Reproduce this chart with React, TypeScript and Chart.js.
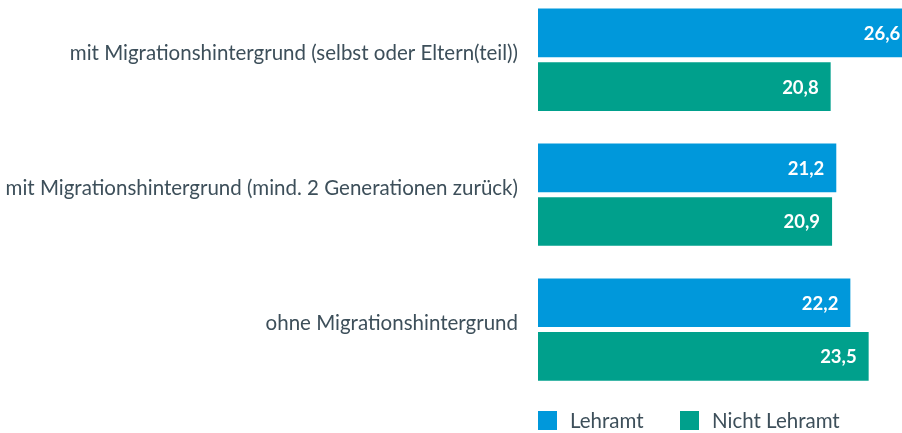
import React, { useEffect, useRef } from "react";
import { Chart, registerables } from "chart.js";

Chart.register(...registerables);

const categories = [
  "mit Migrationshintergrund (selbst oder Eltern(teil))",
  "mit Migrationshintergrund (mind. 2 Generationen zurück)",
  "ohne Migrationshintergrund",
];
const seriesNames = ["Lehramt", "Nicht Lehramt"];
const lehramt = [26.6, 21.2, 22.2];
const nichtLehramt = [20.8, 20.9, 23.5];
const colors = ["#0098db", "#00a08c"];

const TEXT = "#3d4f5a";
const FONT = "Lato, 'Open Sans', sans-serif";
const CANVAS_TOP = -20;

const fmt = (v: number) => v.toFixed(1).replace(".", ",");

const valueLabels = {
  id: "valueLabels",
  afterDatasetsDraw(chart: any) {
    const ctx = chart.ctx;
    ctx.save();
    ctx.font = `bold 18.5px ${FONT}`;
    ctx.fillStyle = "#ffffff";
    ctx.textAlign = "right";
    ctx.textBaseline = "middle";
    chart.data.datasets.forEach((ds: any, di: number) => {
      const meta = chart.getDatasetMeta(di);
      meta.data.forEach((el: any, i: number) => {
        ctx.fillText(fmt(ds.data[i]), el.x - 12, el.y + 1);
      });
    });
    ctx.restore();
  },
};

const customLegend = {
  id: "customLegend",
  afterDraw(chart: any) {
    const ctx = chart.ctx;
    const left = chart.chartArea.left;
    const y = 411 - CANVAS_TOP;
    ctx.save();
    ctx.font = `20.5px ${FONT}`;
    ctx.textBaseline = "middle";
    ctx.textAlign = "left";
    let x = left;
    chart.data.datasets.forEach((ds: any, i: number) => {
      ctx.fillStyle = ds.backgroundColor;
      ctx.fillRect(x, y, 19, 19);
      ctx.fillStyle = TEXT;
      ctx.fillText(ds.label, x + 32, y + 10);
      x += 142;
    });
    ctx.restore();
  },
};

export default function App() {
  const ref = useRef<HTMLCanvasElement>(null);
  useEffect(() => {
    document.body.style.margin = "0";
    const chart = new Chart(ref.current!, {
      type: "bar",
      data: {
        labels: categories,
        datasets: [
          {
            label: seriesNames[0],
            data: lehramt,
            backgroundColor: colors[0],
            categoryPercentage: 0.7956,
            barPercentage: 0.907,
            clip: false,
          } as any,
          {
            label: seriesNames[1],
            data: nichtLehramt,
            backgroundColor: colors[1],
            categoryPercentage: 0.7956,
            barPercentage: 0.907,
            clip: false,
          } as any,
        ],
      },
      options: {
        indexAxis: "y",
        animation: false,
        responsive: false,
        maintainAspectRatio: false,
        layout: { autoPadding: false, padding: { top: 0, right: 0, left: 0, bottom: 36 } },
        plugins: {
          legend: { display: false },
          tooltip: { enabled: false },
        },
        scales: {
          x: {
            display: false,
            min: 0,
            max: 25.87,
          },
          y: {
            grid: { display: false, drawTicks: true, tickLength: 20 },
            border: { display: false },
            ticks: {
              color: TEXT,
              font: { family: FONT, size: 20.5 },
              padding: 0,
              labelOffset: -6,
            },
            afterFit(scale: any) {
              scale.width = 538;
            },
          },
        },
      } as any,
      plugins: [valueLabels, customLegend],
    });
    return () => chart.destroy();
  }, []);
  return (
    <div style={{ position: "relative", width: 902, height: 433, overflow: "hidden" }}>
      <canvas
        ref={ref}
        width={902}
        height={453}
        style={{ position: "absolute", top: CANVAS_TOP, left: 0, width: 902, height: 453 }}
      />
    </div>
  );
}
